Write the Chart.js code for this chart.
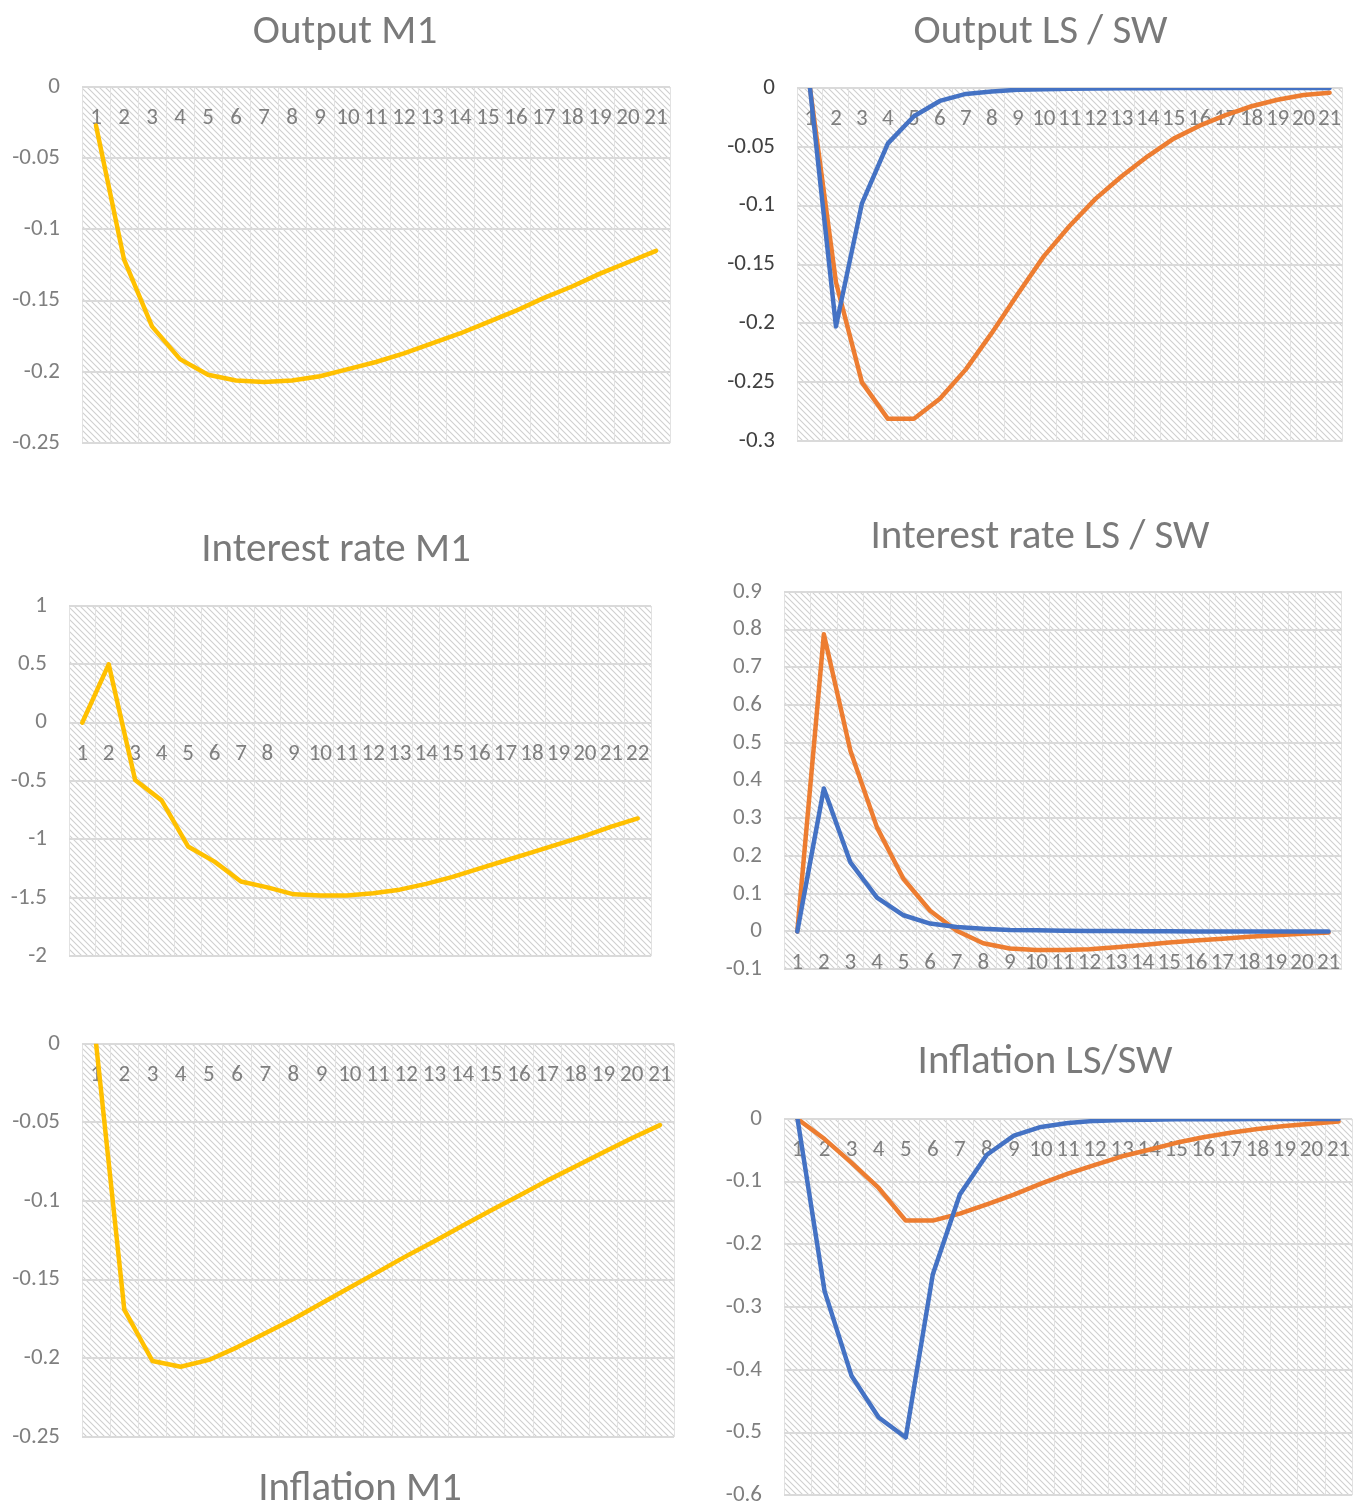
<!DOCTYPE html>
<html>
<head>
<meta charset="utf-8">
<script src="https://cdn.jsdelivr.net/npm/chart.js@4.4.0/dist/chart.umd.min.js"></script>
<style>
  html, body { margin: 0; padding: 0; background: #fff; overflow: hidden; }
  body { width: 1363px; height: 1505px; position: relative; }
  .box { position: absolute; }
</style>
</head>
<body>
<div class="box" style="left:0px;top:0px;width:690px;height:479px"><canvas id="outM1"></canvas></div>
<div class="box" style="left:722px;top:0px;width:637px;height:477px"><canvas id="outLS"></canvas></div>
<div class="box" style="left:0px;top:490px;width:672px;height:502px"><canvas id="rateM1"></canvas></div>
<div class="box" style="left:722px;top:490px;width:636px;height:515px"><canvas id="rateLS"></canvas></div>
<div class="box" style="left:0px;top:1008px;width:720px;height:512px"><canvas id="inflM1"></canvas></div>
<div class="box" style="left:722px;top:1000px;width:646px;height:531px"><canvas id="inflLS"></canvas></div>
<script>
// periods
const periods21 = ['1','2','3','4','5','6','7','8','9','10','11','12','13','14','15','16','17','18','19','20','21'];
const periods22 = periods21.concat(['22']);

// Output
const outputM1 = [-0.027, -0.121, -0.168, -0.191, -0.202, -0.206, -0.207, -0.206, -0.203, -0.198, -0.193, -0.187, -0.180, -0.173, -0.165, -0.157, -0.148, -0.140, -0.131, -0.123, -0.115];
const outputLS = [0, -0.2025, -0.098, -0.047, -0.024, -0.011, -0.005, -0.003, -0.0015, -0.001, -0.0007, -0.0005, -0.0003, -0.0002, -0.0001, -0.0001, 0, 0, 0, 0, 0];
const outputSW = [0, -0.165, -0.250, -0.281, -0.281, -0.264, -0.239, -0.208, -0.175, -0.143, -0.117, -0.094, -0.075, -0.058, -0.043, -0.032, -0.023, -0.0155, -0.010, -0.006, -0.004];

// Interest rate
const rateM1 = [0, 0.5, -0.49, -0.665, -1.06, -1.19, -1.36, -1.41, -1.47, -1.48, -1.48, -1.46, -1.43, -1.38, -1.32, -1.25, -1.18, -1.11, -1.04, -0.97, -0.89, -0.82];
const rateLS = [0, 0.379, 0.183, 0.090, 0.043, 0.021, 0.012, 0.007, 0.004, 0.003, 0.002, 0.001, 0.001, 0.0005, 0.0005, 0, 0, 0, 0, 0, 0];
const rateSW = [0, 0.788, 0.479, 0.276, 0.139, 0.055, 0.002, -0.031, -0.045, -0.049, -0.049, -0.047, -0.042, -0.036, -0.029, -0.024, -0.019, -0.014, -0.010, -0.006, -0.003];

// Inflation
const inflM1 = [0, -0.169, -0.2017, -0.2053, -0.201, -0.193, -0.184, -0.175, -0.165, -0.155, -0.145, -0.135, -0.1255, -0.1157, -0.106, -0.0966, -0.087, -0.078, -0.069, -0.060, -0.0517];
const inflLS = [0, -0.2746, -0.410, -0.476, -0.508, -0.248, -0.1205, -0.057, -0.0266, -0.0127, -0.0064, -0.003, -0.0016, -0.001, -0.0005, -0.0003, -0.0002, -0.0001, 0, 0, 0];
const inflSW = [0, -0.032, -0.070, -0.110, -0.162, -0.162, -0.151, -0.136, -0.1205, -0.103, -0.087, -0.073, -0.0595, -0.049, -0.038, -0.029, -0.022, -0.016, -0.011, -0.0074, -0.004];

const YELLOW = '#FFC000', BLUE = '#4472C4', ORANGE = '#ED7D31';
const FONT = 'Carlito, Lato, "Open Sans", sans-serif';
const GREY = '#7f7f7f';

function hatchPattern(ctx) {
    const c = document.createElement('canvas');
    c.width = 6; c.height = 6;
    const g = c.getContext('2d');
    g.strokeStyle = '#cfcfcf';
    g.lineWidth = 1.1;
    g.beginPath();
    g.moveTo(-1, -1); g.lineTo(7, 7);
    g.moveTo(-1, 5); g.lineTo(1, 7);
    g.moveTo(5, -1); g.lineTo(7, 1);
    g.stroke();
    return ctx.createPattern(c, 'repeat');
}

const hatchBg = {
    id: 'hatchBg',
    beforeDraw(chart) {
        const a = chart.chartArea, ctx = chart.ctx;
        ctx.save();
        ctx.fillStyle = hatchPattern(ctx);
        ctx.fillRect(a.left, a.top, a.right - a.left, a.bottom - a.top);
        ctx.restore();
    }
};

function line(data, color) {
    return {
        data: data,
        borderColor: color,
        backgroundColor: color,
        borderWidth: 4.5,
        pointRadius: 0,
        tension: 0,
        borderJoinStyle: 'round',
        borderCapStyle: 'round'
    };
}

function makeChart(id, cfg) {
    new Chart(document.getElementById(id), {
        type: 'line',
        data: {
            labels: cfg.labels,
            datasets: cfg.datasets
        },
        plugins: [hatchBg],
        options: {
            responsive: true,
            maintainAspectRatio: false,
            animation: false,
            layout: { padding: 0 },
            plugins: {
                legend: { display: false },
                tooltip: { enabled: false },
                title: {
                    display: true,
                    text: cfg.title,
                    position: cfg.titlePos || 'top',
                    color: '#7a7a7a',
                    font: { family: FONT, size: 41, weight: 'normal', lineHeight: 1.2 },
                    padding: cfg.titlePad
                }
            },
            scales: {
                x: {
                    position: { y: 0 },
                    offset: true,
                    grid: { offset: true, color: '#e2e2e2', lineWidth: 1, drawTicks: false },
                    border: { display: false },
                    ticks: {
                        autoSkip: false, maxRotation: 0, padding: 17.5,
                        color: GREY, font: { family: FONT, size: 23 }
                    },
                    afterFit: function(scale) { scale.height = 0; }
                },
                y: {
                    min: cfg.min, max: cfg.max,
                    grid: { color: '#dadada', lineWidth: 2, drawTicks: false },
                    border: { display: false },
                    ticks: {
                        stepSize: cfg.step, padding: 22,
                        color: cfg.yColor || GREY, font: { family: FONT, size: 23 },
                        callback: function(v) { const r = +v.toFixed(4); return r === 0 ? '0' : String(r); }
                    },
                    afterFit: function(scale) { scale.width = cfg.yWidth; }
                },
                // empty right-hand gutter so the title centres where the original one sits
                gutter: {
                    axis: 'y', position: 'right', min: cfg.min, max: cfg.max,
                    grid: { display: false }, border: { display: false },
                    ticks: { display: false },
                    afterFit: function(scale) { scale.width = cfg.gutter; }
                }
            }
        }
    });
}

makeChart('outM1', {
    title: 'Output M1', labels: periods21,
    datasets: [line(outputM1, YELLOW)],
    min: -0.25, max: 0, step: 0.05, yWidth: 82, gutter: 20,
    titlePad: { top: 8.4, bottom: 29.4 }
});

makeChart('outLS', {
    title: 'Output LS / SW', labels: periods21,
    datasets: [line(outputLS, BLUE), line(outputSW, ORANGE)],
    min: -0.3, max: 0, step: 0.05, yWidth: 75, gutter: 13, yColor: '#404040',
    titlePad: { top: 8.4, bottom: 30.4 }
});

makeChart('rateM1', {
    title: 'Interest rate M1', labels: periods22,
    datasets: [line(rateM1, YELLOW)],
    min: -2, max: 1, step: 0.5, yWidth: 69, gutter: 21,
    titlePad: { top: 36.4, bottom: 30.4 }
});

makeChart('rateLS', {
    title: 'Interest rate LS / SW', labels: periods21,
    datasets: [line(rateLS, BLUE), line(rateSW, ORANGE)],
    min: -0.1, max: 0.9, step: 0.1, yWidth: 62, gutter: 12,
    titlePad: { top: 23.4, bottom: 29.4 }
});

makeChart('inflM1', {
    title: 'Inflation M1', titlePos: 'bottom', labels: periods21,
    datasets: [line(inflM1, YELLOW)],
    min: -0.25, max: 0, step: 0.05, yWidth: 82, gutter: 46,
    titlePad: { top: 28.4, bottom: 5.4 }
});

makeChart('inflLS', {
    title: 'Inflation LS/SW', labels: periods21,
    datasets: [line(inflLS, BLUE), line(inflSW, ORANGE)],
    min: -0.6, max: 0, step: 0.1, yWidth: 62, gutter: 13,
    titlePad: { top: 38.4, bottom: 31.4 }
});
</script>
</body>
</html>
